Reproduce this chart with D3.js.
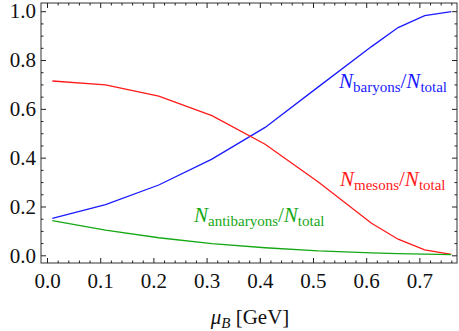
<!DOCTYPE html>
<html>
<head>
<meta charset="utf-8">
<script src="https://cdn.jsdelivr.net/npm/d3@7"></script>
<style>
  body { margin: 0; background: #fff; }
  svg text { font-family: 'Liberation Serif', 'Times New Roman', Tinos, 'DejaVu Serif', serif !important; }
</style>
</head>
<body>
<script>
// chemical potential values (GeV)
const muB = [0.01, 0.11, 0.21, 0.31, 0.41, 0.51, 0.61, 0.66, 0.71, 0.76];
const baryons = [0.151, 0.208, 0.288, 0.394, 0.524, 0.690, 0.855, 0.933, 0.982, 0.998];
const mesons = [0.714, 0.698, 0.652, 0.572, 0.455, 0.300, 0.131, 0.066, 0.022, 0.004];
const antibaryons = [0.142, 0.103, 0.072, 0.048, 0.031, 0.018, 0.010, 0.007, 0.005, 0.003];

const xTicks = [0, 0.1, 0.2, 0.3, 0.4, 0.5, 0.6, 0.7];
const yTicks = [0, 0.2, 0.4, 0.6, 0.8, 1.0];

const W = 459, H = 331;
const frame = { left: 41, top: 3, right: 457, bottom: 263 };
const serif = "'Liberation Serif', 'Times New Roman', Tinos, 'DejaVu Serif', serif";

const svg = d3.select('body').append('svg')
  .attr('width', W)
  .attr('height', H);

const x = d3.scaleLinear().domain([-0.0113, 0.7707]).range([frame.left, frame.right]);
const y = d3.scaleLinear().domain([-0.0315, 1.0336]).range([frame.bottom, frame.top]);

const xMinor = d3.range(0, 0.771, 0.02).filter(v => Math.abs(v * 10 - Math.round(v * 10)) > 1e-6);
const yMinor = d3.range(0, 1.03, 0.05).filter(v => Math.abs(v * 5 - Math.round(v * 5)) > 1e-6);

function styleAxis(g) {
  g.attr('font-family', serif);
  g.select('.domain').remove();
  g.selectAll('line').attr('stroke', '#222').attr('stroke-width', 1);
}

// frame
svg.append('rect')
  .attr('x', frame.left).attr('y', frame.top)
  .attr('width', frame.right - frame.left).attr('height', frame.bottom - frame.top)
  .attr('fill', 'none').attr('stroke', '#333').attr('stroke-width', 1);

// bottom ticks + labels
svg.append('g').attr('transform', 'translate(0,' + frame.bottom + ')')
  .call(d3.axisBottom(x).tickValues(xMinor).tickSize(-2.5).tickFormat(''))
  .call(styleAxis);
const xAx = svg.append('g').attr('transform', 'translate(0,' + frame.bottom + ')')
  .call(d3.axisBottom(x).tickValues(xTicks).tickSize(-5).tickPadding(10).tickFormat(d3.format('.1f')))
  .call(styleAxis);
xAx.selectAll('text').attr('font-size', 21).attr('fill', '#111').style('font-family', serif);

// top ticks
svg.append('g').attr('transform', 'translate(0,' + frame.top + ')')
  .call(d3.axisTop(x).tickValues(xMinor).tickSize(-2.5).tickFormat(''))
  .call(styleAxis);
svg.append('g').attr('transform', 'translate(0,' + frame.top + ')')
  .call(d3.axisTop(x).tickValues(xTicks).tickSize(-5).tickFormat(''))
  .call(styleAxis);

// left ticks + labels
svg.append('g').attr('transform', 'translate(' + frame.left + ',0)')
  .call(d3.axisLeft(y).tickValues(yMinor).tickSize(-2.5).tickFormat(''))
  .call(styleAxis);
const yAx = svg.append('g').attr('transform', 'translate(' + frame.left + ',0)')
  .call(d3.axisLeft(y).tickValues(yTicks).tickSize(-5).tickPadding(5).tickFormat(d3.format('.1f')))
  .call(styleAxis);
yAx.selectAll('text').attr('font-size', 21).attr('fill', '#111').style('font-family', serif);

// right ticks
svg.append('g').attr('transform', 'translate(' + frame.right + ',0)')
  .call(d3.axisRight(y).tickValues(yMinor).tickSize(-2.5).tickFormat(''))
  .call(styleAxis);
svg.append('g').attr('transform', 'translate(' + frame.right + ',0)')
  .call(d3.axisRight(y).tickValues(yTicks).tickSize(-5).tickFormat(''))
  .call(styleAxis);

// curves
const series = [
  { vals: baryons, color: '#1a1aff' },
  { vals: mesons, color: '#ff1a1a' },
  { vals: antibaryons, color: '#15a815' }
];
const line = d3.line().x(d => x(d[0])).y(d => y(d[1]));
series.forEach(s => {
  svg.append('path')
    .datum(muB.map((m, i) => [m, s.vals[i]]))
    .attr('d', line)
    .attr('fill', 'none')
    .attr('stroke', s.color)
    .attr('stroke-width', 1.3);
});

// curve labels
function ratioLabel(px, py, sub, color) {
  const t = svg.append('text')
    .attr('x', px).attr('y', py)
    .attr('fill', color)
    .attr('font-size', 21)
    .style('font-family', serif);
  t.append('tspan').attr('font-style', 'italic').text('N');
  t.append('tspan').attr('font-size', 15).attr('dy', 4).text(sub);
  t.append('tspan').attr('dy', -4).text('/');
  t.append('tspan').attr('font-style', 'italic').text('N');
  t.append('tspan').attr('font-size', 15).attr('dy', 4).text('total');
}
ratioLabel(339, 88, 'baryons', '#1a1aff');
ratioLabel(340, 186, 'mesons', '#ff1a1a');
ratioLabel(194, 222, 'antibaryons', '#15a815');

// x axis title
const xt = svg.append('text')
  .attr('x', 250).attr('y', 324)
  .attr('text-anchor', 'middle')
  .attr('font-size', 21)
  .attr('fill', '#111')
  .style('font-family', serif);
xt.append('tspan').attr('font-style', 'italic').text('μ');
xt.append('tspan').attr('font-style', 'italic').attr('font-size', 15).attr('dy', 4).text('B');
xt.append('tspan').attr('dy', -4).text(' [GeV]');
</script>
</body>
</html>
